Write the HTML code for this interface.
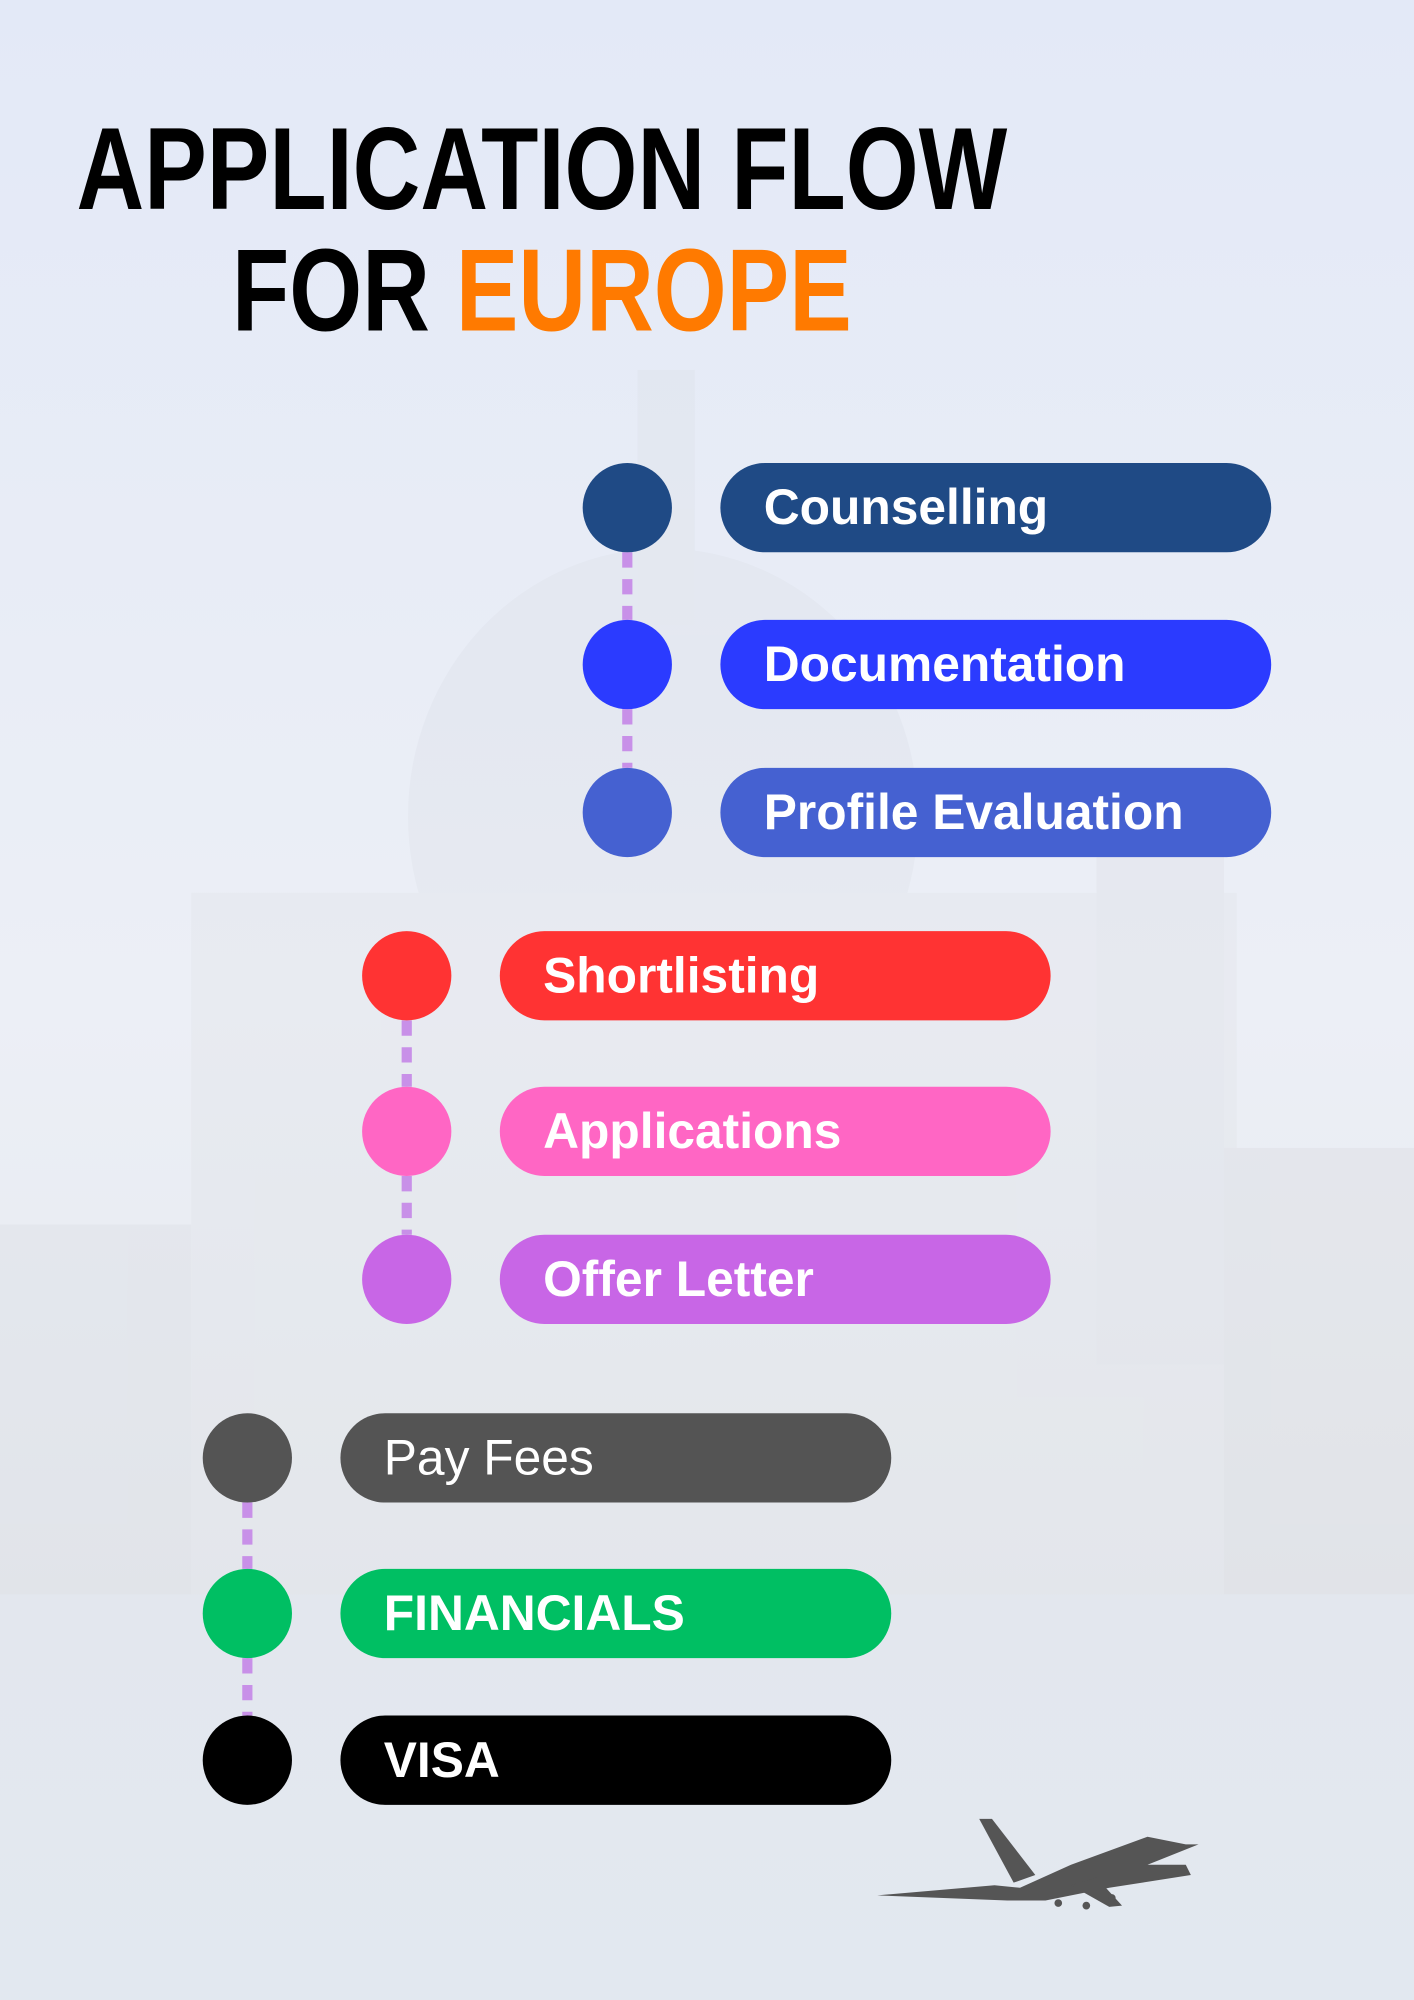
<!DOCTYPE html>
<html>
<head>
<meta charset="utf-8">
<style>
html,body{margin:0;padding:0;background:#e8edf7;}
svg{display:block;}
</style>
</head>
<body>
<svg id="chart" width="1414" height="2000" viewBox="0 0 1109 1568" preserveAspectRatio="none" xmlns="http://www.w3.org/2000/svg">
  <defs>
    <linearGradient id="bg" x1="0" y1="0" x2="0" y2="1">
      <stop offset="0" stop-color="#e3e9f7"/>
      <stop offset="0.5" stop-color="#eceff6"/>
      <stop offset="0.8" stop-color="#e6e9ee"/>
      <stop offset="1" stop-color="#e4eaf1"/>
    </linearGradient>
  </defs>
  <rect x="0" y="0" width="1109" height="1568" fill="url(#bg)"/>
  <g opacity="0.3">
    <ellipse cx="520" cy="640" rx="200" ry="210" fill="#dcdfe6"/>
    <rect x="150" y="700" width="820" height="560" fill="#dfe1e6"/>
    <rect x="500" y="290" width="45" height="200" fill="#dcdfe5"/>
    <rect x="860" y="670" width="100" height="400" fill="#d9dce2"/>
    <rect x="0" y="960" width="150" height="300" fill="#d8dbe0"/>
    <rect x="960" y="900" width="149" height="360" fill="#d6d8dc"/>
    <rect x="0" y="1250" width="1109" height="318" fill="#dfe5ee"/>
  </g>
  <g font-family="Liberation Sans, sans-serif" font-weight="bold">
    <text x="60" y="164" font-size="92" textLength="730" lengthAdjust="spacingAndGlyphs" fill="#000">APPLICATION FLOW</text>
    <text x="182" y="259" font-size="92" textLength="486" lengthAdjust="spacingAndGlyphs" fill="#000">FOR <tspan fill="#ff7a00">EUROPE</tspan></text>
  </g>
  <g id="steps"></g>
  <g fill="#555">
    <path d="M688 1486 L780 1478 L800 1480 L840 1462 L900 1440 L930 1446 L940 1446 L900 1462 L930 1462 L934 1470 L870 1480 L820 1490 L790 1490 Z"/>
    <path d="M768 1426 L778 1426 L812 1470 L795 1476 Z"/>
    <path d="M860 1472 L880 1494 L870 1495 L840 1478 Z"/>
    <circle cx="830" cy="1492" r="3"/><circle cx="852" cy="1494" r="3"/><circle cx="872" cy="1488" r="3"/>
  </g>
</svg>
<script>
const labels = ["Counselling","Documentation","Profile Evaluation","Shortlisting","Applications","Offer Letter","Pay Fees","FINANCIALS","VISA"];
const colors = ["#1f4a85","#2b3bff","#4561d1","#ff3333","#ff66c4","#c866e6","#545454","#00bf63","#000000"];
const groups = [0,0,0,1,1,1,2,2,2];
const rowY = [398,521,637,765,887,1003,1143,1265,1380];
const groupCircleX = [492,319,194];
const pillW = 432, pillH = 70, r = 35, gap = 73;
const NS = "http://www.w3.org/2000/svg";
const g = document.getElementById('steps');
function mk(tag, attrs){const e=document.createElementNS(NS,tag);for(const k in attrs)e.setAttribute(k,attrs[k]);return e;}
for(let i=0;i<labels.length-1;i++){
  if(groups[i]!==groups[i+1]) continue;
  const cx=groupCircleX[groups[i]];
  const l=mk('line',{x1:cx,y1:rowY[i]+r,x2:cx,y2:rowY[i+1]-r,stroke:'#c890e8','stroke-width':8,'stroke-dasharray':'12 9'});
  
  
  g.appendChild(l);
}
labels.forEach((lab,i)=>{
  const cx=groupCircleX[groups[i]], cy=rowY[i];
  const row=mk('g',{});
  
  
  const c=mk('circle',{cx:cx,cy:cy,r:r,fill:colors[i]});
  
  
  const px=cx+gap;
  const p=mk('rect',{x:px,y:cy-pillH/2,width:pillW,height:pillH,rx:35,fill:colors[i]});
  
  
  const t=mk('text',{x:px+34,y:cy+13,'font-family':'Liberation Sans, sans-serif','font-size':39,'font-weight':(i===6)?'normal':'bold',fill:'#fff'});
  t.textContent=lab;
  
  
  row.appendChild(c);row.appendChild(p);row.appendChild(t);
  g.appendChild(row);
});
</script>
</body>
</html>
